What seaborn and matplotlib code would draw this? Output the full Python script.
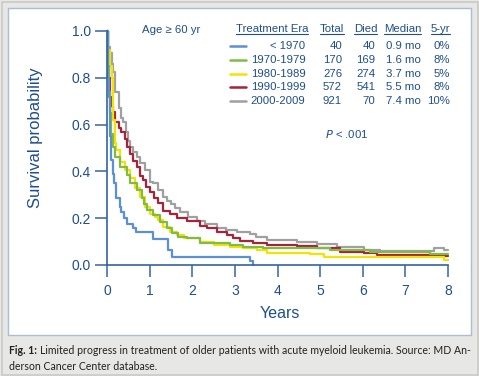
import matplotlib
matplotlib.use("Agg")
import matplotlib.pyplot as plt
import seaborn as sns
import pandas as pd
from matplotlib.patches import Rectangle
from matplotlib.lines import Line2D

# ---------------- data ----------------
eras = ["< 1970", "1970-1979", "1980-1989", "1990-1999", "2000-2009"]
totals = [40, 170, 276, 572, 921]
died = [40, 169, 274, 541, 70]
medians = ["0.9 mo", "1.6 mo", "3.7 mo", "5.5 mo", "7.4 mo"]
five_yr = ["0%", "8%", "5%", "8%", "10%"]
colors = ["#5b8fd6", "#80bb45", "#f4e300", "#a5233b", "#a0a0a0"]

t_lt1970 = [0, 0.02, 0.03, 0.05, 0.06, 0.08, 0.10, 0.14, 0.17, 0.21, 0.30, 0.34, 0.40,
            0.46, 0.62, 0.68, 1.09, 1.44, 1.52, 3.36, 3.43]
s_lt1970 = [1.0, 0.90, 0.80, 0.72, 0.65, 0.55, 0.45, 0.39, 0.35, 0.285, 0.25, 0.225, 0.20,
            0.175, 0.16, 0.14, 0.11, 0.065, 0.035, 0.015, 0.0]

t_1970s = [0, 0.02, 0.04, 0.06, 0.09, 0.13, 0.19, 0.30, 0.46, 0.54, 0.70, 0.81, 0.87, 0.93,
           1.09, 1.24, 1.40, 1.52, 1.67, 1.87, 2.18, 2.89, 3.20, 3.67, 5.23, 6.17, 7.58, 8.0]
s_1970s = [1.0, 0.85, 0.74, 0.65, 0.56, 0.505, 0.463, 0.42, 0.385, 0.35, 0.32, 0.285, 0.26,
           0.235, 0.214, 0.185, 0.157, 0.135, 0.121, 0.114, 0.093, 0.085, 0.078, 0.071, 0.064,
           0.057, 0.047, 0.047]

t_1980s = [0, 0.02, 0.07, 0.11, 0.13, 0.15, 0.19, 0.22, 0.30, 0.42, 0.54, 0.66, 0.77, 0.89,
           1.0, 1.13, 1.20, 1.32, 1.48, 1.64, 1.80, 2.18, 2.50, 2.89, 3.20, 3.51, 3.75, 4.77,
           5.08, 7.43, 7.90, 8.0]
s_1980s = [1.0, 0.92, 0.85, 0.80, 0.70, 0.62, 0.52, 0.49, 0.44, 0.406, 0.37, 0.33, 0.29, 0.25,
           0.218, 0.206, 0.192, 0.164, 0.142, 0.128, 0.114, 0.10, 0.085, 0.078, 0.071, 0.064,
           0.05, 0.047, 0.036, 0.033, 0.021, 0.021]

t_1990s = [0, 0.02, 0.05, 0.07, 0.10, 0.15, 0.19, 0.27, 0.34, 0.42, 0.48, 0.54, 0.62, 0.70,
           0.77, 0.85, 0.92, 1.0, 1.10, 1.20, 1.32, 1.48, 1.64, 1.87, 2.18, 2.34, 2.57, 2.81,
           2.96, 3.12, 3.43, 3.75, 4.45, 4.92, 5.47, 6.02, 6.33, 7.60, 8.0]
s_1990s = [1.0, 0.88, 0.80, 0.72, 0.68, 0.655, 0.61, 0.584, 0.57, 0.54, 0.505, 0.475, 0.445,
           0.42, 0.38, 0.363, 0.335, 0.31, 0.285, 0.264, 0.23, 0.22, 0.20, 0.19, 0.167, 0.16,
           0.142, 0.128, 0.114, 0.104, 0.095, 0.085, 0.081, 0.071, 0.057, 0.053, 0.043, 0.04,
           0.04]

t_2000s = [0, 0.02, 0.07, 0.11, 0.15, 0.19, 0.27, 0.34, 0.38, 0.44, 0.50, 0.54, 0.62, 0.70,
           0.77, 0.89, 1.0, 1.09, 1.20, 1.32, 1.40, 1.50, 1.60, 1.71, 1.90, 2.10, 2.30, 2.57,
           2.80, 3.04, 3.36, 3.50, 3.75, 4.45, 4.92, 5.39, 6.02, 6.40, 7.04, 7.50, 7.66, 7.90,
           8.0]
s_2000s = [1.0, 0.93, 0.905, 0.86, 0.826, 0.74, 0.67, 0.63, 0.61, 0.57, 0.53, 0.505, 0.485,
           0.463, 0.435, 0.406, 0.356, 0.35, 0.32, 0.29, 0.275, 0.26, 0.245, 0.228, 0.205, 0.19,
           0.175, 0.16, 0.15, 0.142, 0.132, 0.118, 0.107, 0.098, 0.09, 0.078, 0.064, 0.061, 0.06,
           0.061, 0.071, 0.064, 0.064]

x_ticks = [0, 1, 2, 3, 4, 5, 6, 7, 8]
y_ticks = [0.0, 0.2, 0.4, 0.6, 0.8, 1.0]
y_ticklabels = ["0.0", "0.2", "0.4", "0.6", "0.8", "1.0"]

series_t = [t_lt1970, t_1970s, t_1980s, t_1990s, t_2000s]
series_s = [s_lt1970, s_1970s, s_1980s, s_1990s, s_2000s]
frames = []
for era, tt, ss in zip(eras, series_t, series_s):
    frames.append(pd.DataFrame({"Years": tt, "Survival": ss, "Era": era}))
df = pd.concat(frames, ignore_index=True)

# ---------------- figure ----------------
sns.set_style("white")
FONT = "Liberation Sans"
plt.rcParams["font.family"] = [FONT, "DejaVu Sans"]
TXT = "#1f4e8d"
AX = "#3563a0"

W, H = 479, 376
fig = plt.figure(figsize=(W / 100, H / 100), dpi=100)
fig.patch.set_facecolor("#e7e7e5")


def fx(x):
    return x / W


def fy(y):
    return 1 - y / H


# outer border and white panel
fig.patches.append(Rectangle((fx(1.5), fy(374.5)), fx(476), fy(1.5) - fy(374.5),
                             transform=fig.transFigure, facecolor="none",
                             edgecolor="#c9c9c6", lw=1.2, zorder=-2))
fig.patches.append(Rectangle((fx(8), fy(335)), fx(471) - fx(8), fy(8) - fy(335),
                             transform=fig.transFigure, facecolor="white",
                             edgecolor="#adbcd2", lw=1.0, zorder=-1))

ax = fig.add_axes([fx(107), fy(265), (448 - 107) / W, (265 - 31) / H])
ax.set_facecolor("none")
ax.set_zorder(2)

order = [4, 3, 2, 1, 0]
for i in order:
    sub = df[df["Era"] == eras[i]]
    sns.lineplot(data=sub, x="Years", y="Survival", ax=ax, color=colors[i], lw=1.6,
                 drawstyle="steps-post", estimator=None, sort=False, legend=False,
                 clip_on=False, zorder=3 + (4 - i))

ax.set_xlim(0, 8)
ax.set_ylim(0, 1)
ax.set_xticks(x_ticks)
ax.set_xticklabels([str(v) for v in x_ticks])
ax.set_yticks(y_ticks)
ax.set_yticklabels(y_ticklabels)
for side in ["top", "right"]:
    ax.spines[side].set_visible(False)
for side in ["left", "bottom"]:
    ax.spines[side].set_color(AX)
    ax.spines[side].set_linewidth(1.2)
    ax.spines[side].set_zorder(10)
ax.tick_params(axis="both", direction="out", length=8.5, width=1.1, color=AX,
               labelcolor=TXT, labelsize=10, bottom=True, left=True)
ax.tick_params(axis="y", pad=3)
ax.tick_params(axis="x", pad=5)
ax.set_xlabel("")
ax.set_ylabel("")

fig.text(fx(279.5), fy(318), "Years", fontsize=11.5, color=TXT, ha="center", va="baseline")
fig.text(fx(36), fy(138), "Survival probability", fontsize=12, color=TXT, rotation=90,
         ha="center", va="center")

# ---------------- legend table ----------------
FS = 8.2
fig.text(fx(142), fy(30), "Age \u2265 60 yr", fontsize=FS, color=TXT, ha="left", va="center")
headers = ["Treatment Era", "Total", "Died", "Median", "5-yr"]
header_left = [235.7, 319.7, 353.7, 384, 430.7]
fig.canvas.draw()
renderer = fig.canvas.get_renderer()
for h, xl in zip(headers, header_left):
    t = fig.text(fx(xl), fy(28.5), h, fontsize=FS, color=TXT, ha="left", va="center")
    bb = t.get_window_extent(renderer=renderer)
    fig.lines.append(Line2D([bb.x0 / W, bb.x1 / W], [fy(34), fy(34)], transform=fig.transFigure,
                            color=TXT, lw=0.8))

for i in range(len(eras)):
    yy = 46 + 13.8 * i
    fig.lines.append(Line2D([fx(230), fx(246)], [fy(yy), fy(yy)], transform=fig.transFigure,
                            color=colors[i], lw=1.8))
    fig.text(fx(305.5), fy(yy), eras[i], fontsize=FS, color=TXT, ha="right", va="center")
    fig.text(fx(342), fy(yy), str(totals[i]), fontsize=FS, color=TXT, ha="right", va="center")
    fig.text(fx(375.5), fy(yy), str(died[i]), fontsize=FS, color=TXT, ha="right", va="center")
    fig.text(fx(420.5), fy(yy), medians[i], fontsize=FS, color=TXT, ha="right", va="center")
    fig.text(fx(450), fy(yy), five_yr[i], fontsize=FS, color=TXT, ha="right", va="center")

fig.text(fx(325), fy(134), "$P$ < .001", fontsize=FS, color=TXT, ha="left", va="center",
         math_fontfamily="dejavusans")

# ---------------- caption ----------------
CAP = "Lato"
line1 = "Limited progress in treatment of older patients with acute myeloid leukemia. Source: MD An-"
target_w = 471.5 - 9
CFS = 7.9
for _ in range(3):
    cb = fig.text(fx(9), fy(354.5), "Fig. 1:", fontsize=CFS, fontweight="bold", color="#222222",
                  ha="left", va="baseline", family=CAP)
    ct = fig.text(0, fy(354.5), line1, fontsize=CFS, color="#222222", ha="left",
                  va="baseline", family=CAP)
    w = (cb.get_window_extent(renderer=renderer).width + 2.5
         + ct.get_window_extent(renderer=renderer).width)
    cb.remove()
    ct.remove()
    CFS = CFS * target_w / w

cb = fig.text(fx(9), fy(354.5), "Fig. 1:", fontsize=CFS, fontweight="bold", color="#222222",
              ha="left", va="baseline", family=CAP)
bb = cb.get_window_extent(renderer=renderer)
fig.text(bb.x1 / W + fx(2.5), fy(354.5), line1,
         fontsize=CFS, color="#222222", ha="left", va="baseline", family=CAP)
fig.text(fx(9), fy(369.5), "derson Cancer Center database.", fontsize=CFS, color="#222222",
         ha="left", va="baseline", family=CAP)

fig.savefig("out.png", dpi=100, facecolor=fig.get_facecolor())
